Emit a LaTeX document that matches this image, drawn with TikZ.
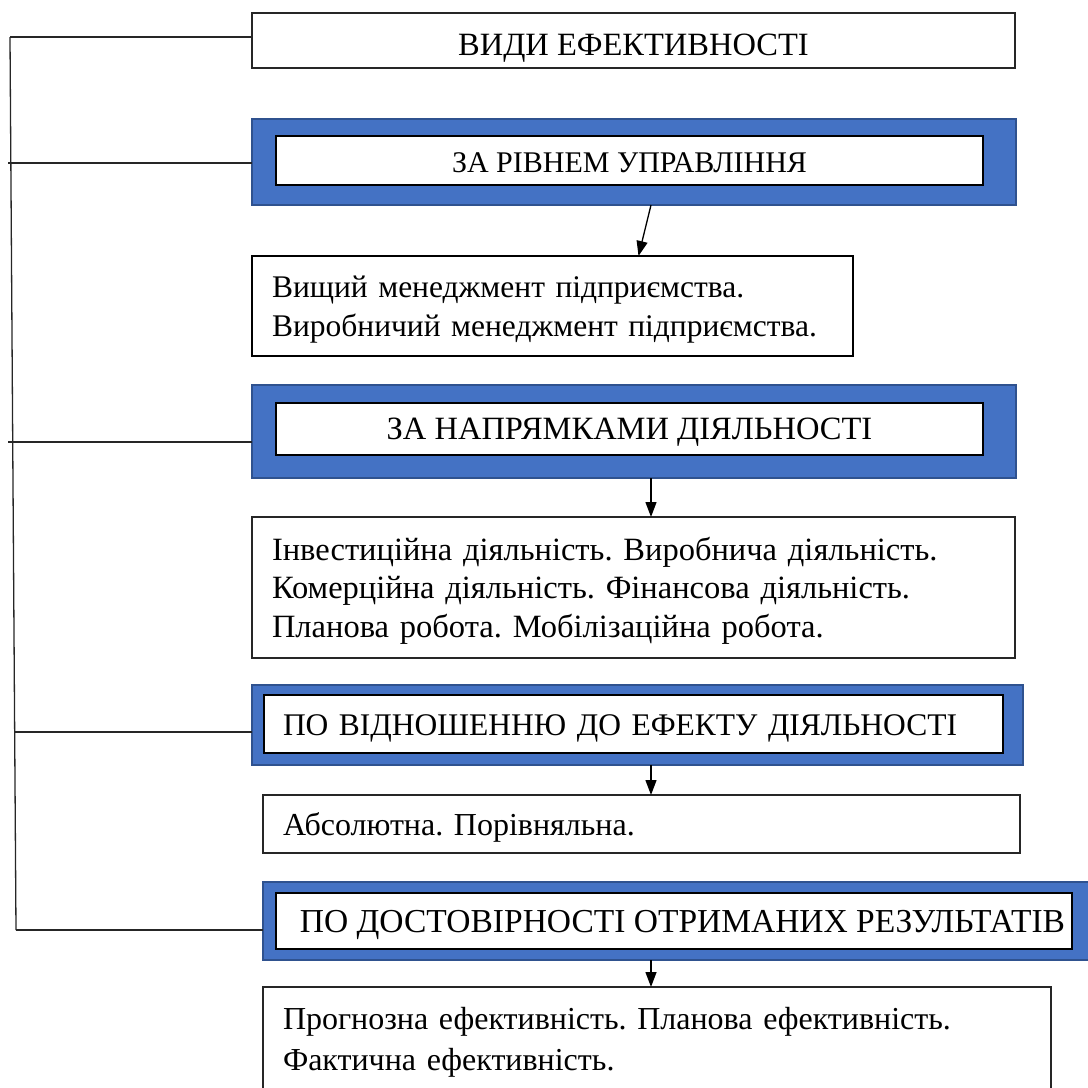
\documentclass[tikz,border=0pt]{standalone}
\usepackage{fontspec}
\setmainfont{Liberation Serif}
\usetikzlibrary{arrows.meta}
\definecolor{blueFill}{HTML}{4472C4}
\definecolor{blueEdge}{HTML}{2F528F}
\frenchspacing
\begin{document}
\begin{tikzpicture}[x=1pt,y=-1pt,
  every node/.style={inner sep=0pt, outer sep=0pt},
  fs/.style={font=\fontsize{#1}{38.5}\selectfont},
  plainbox/.style={draw=black!85, line width=1.3pt, fill=white, rectangle, fs=32.5},
  bluebox/.style={draw=blueEdge, line width=2pt, fill=blueFill, rectangle},
  innerbox/.style={draw=black, line width=1.6pt, fill=white, rectangle, fs=32.5},
  conn/.style={line width=1.3pt, black!85},
  arr/.style={line width=1.3pt, black, -{Triangle[width=11pt,length=15pt]}}
]
\useasboundingbox (0,0) rectangle (1088,1088);

% boxes
\node[plainbox, minimum width=763pt, minimum height=55pt, text height=30pt, text depth=0pt] (b1) at (633.5,40.5) {ВИДИ ЕФЕКТИВНОСТІ};

\node[bluebox, minimum width=764pt, minimum height=86pt] (b2) at (634,162) {};
\node[innerbox, fs=30, minimum width=707pt, minimum height=49pt, text height=24pt, text depth=0pt] (b2i) at (629.5,160.5) {ЗА РІВНЕМ УПРАВЛІННЯ};

\node[plainbox, font=\fontsize{31.5}{39}\selectfont, line width=2.2pt, draw=black, minimum width=601pt, minimum height=100pt, text width=561pt, align=left, inner xsep=20pt, text height=22pt, text depth=39pt] (b3) at (552.5,306) {\mbox{Вищий менеджмент підприємства.}\\\mbox{Виробничий менеджмент підприємства.}};

\node[bluebox, minimum width=764pt, minimum height=93pt] (b4) at (634,431.5) {};
\node[innerbox, minimum width=707pt, minimum height=52pt, text height=20pt, text depth=0pt] (b4i) at (629.5,429) {ЗА НАПРЯМКАМИ ДІЯЛЬНОСТІ};

\node[plainbox, minimum width=763pt, minimum height=141pt, text width=723pt, align=left, inner xsep=20pt, text height=22pt, text depth=77pt] (b5) at (633.5,587.5) {Інвестиційна діяльність. Виробнича діяльність.\\Комерційна діяльність. Фінансова діяльність.\\Планова робота. Мобілізаційна робота.};

\node[bluebox, minimum width=771pt, minimum height=80pt] (b6) at (637.5,725) {};
\node[innerbox, fs=31.5, minimum width=739pt, minimum height=58pt, text width=701pt, align=left, inner xsep=19pt, text height=22pt, text depth=0pt] (b6i) at (633.5,724) {ПО ВІДНОШЕННЮ ДО ЕФЕКТУ ДІЯЛЬНОСТІ};

\node[plainbox, fs=32, minimum width=757pt, minimum height=58pt, text width=717pt, align=left, inner xsep=20pt, text height=22pt, text depth=0pt] (b7) at (641.5,824) {Абсолютна. Порівняльна.};

\node[bluebox, minimum width=840pt, minimum height=78pt] (b8) at (683,921) {};
\node[innerbox, fs=33.5, minimum width=796pt, minimum height=56pt, text height=22pt, text depth=0pt] (b8i) at (674,921) {\hspace*{17pt}ПО ДОСТОВІРНОСТІ ОТРИМАНИХ РЕЗУЛЬТАТІВ};

\node[plainbox, font=\fontsize{32}{38.5}\selectfont, minimum width=788pt, minimum height=104pt, text width=748pt, align=left, inner xsep=20pt, text height=22pt, text depth=42pt] (b9) at (657,1039) {Прогнозна ефективність. Планова ефективність.\\[3pt]Фактична ефективність.};

% left bracket
\coordinate (L1) at (10,37);
\coordinate (L2) at (8,163);
\coordinate (L3) at (8,442);
\coordinate (L4) at (15,732);
\coordinate (L5) at (16,930);
\draw[conn] (L1) -- (L5);
\draw[conn] (L1) -- (L1 -| b1.west);
\draw[conn] (L2) -- (L2 -| b2.west);
\draw[conn] (L3) -- (L3 -| b4.west);
\draw[conn] (L4) -- (L4 -| b6.west);
\draw[conn] (L5) -- (L5 -| b8.west);

% arrows
\coordinate (ax) at (651,0);
\draw[arr] ([xshift=17pt]b2.south) -- ([xshift=86pt]b3.north);
\draw[arr] (b4.south -| ax) -- (b5.north -| ax);
\draw[arr] (b6.south -| ax) -- (b7.north -| ax);
\draw[arr] (b8.south -| ax) -- (b9.north -| ax);
\end{tikzpicture}
\end{document}
